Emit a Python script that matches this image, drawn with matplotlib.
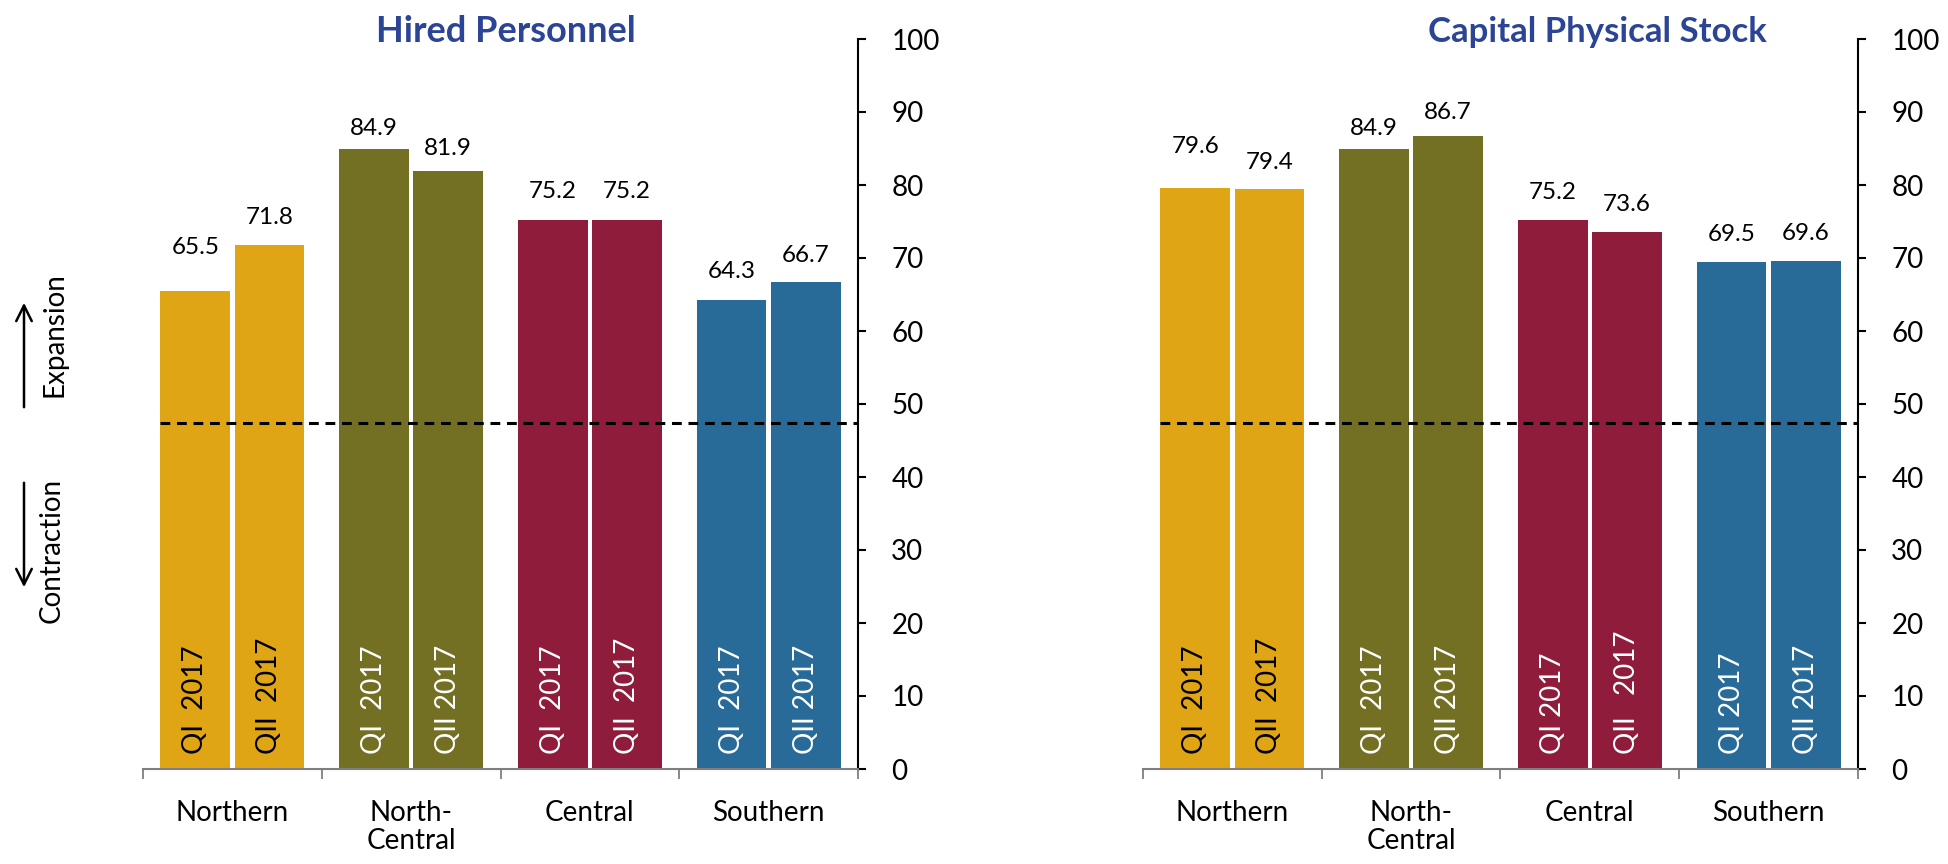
import numpy as np
import matplotlib
matplotlib.use("Agg")
import matplotlib.pyplot as plt

plt.rcParams['font.family'] = ['Lato', 'DejaVu Sans']

# Data
regions = ["Northern", "North-\nCentral", "Central", "Southern"]
colors = ['#DFA514', '#737024', '#8E1C3A', '#286B99']
text_colors = ['black', 'white', 'white', 'white']

hired_qi = [65.5, 84.9, 75.2, 64.3]
hired_qii = [71.8, 81.9, 75.2, 66.7]
capital_qi = [79.6, 84.9, 75.2, 69.5]
capital_qii = [79.4, 86.7, 73.6, 69.6]

# bar labels inside bars (spacing as in the original)
hired_qi_names = ["QI  2017", "QI  2017", "QI  2017", "QI  2017"]
hired_qii_names = ["QII  2017", "QII 2017", "QII  2017", "QII 2017"]
capital_qi_names = ["QI  2017", "QI  2017", "QI 2017", "QI 2017"]
capital_qii_names = ["QII  2017", "QII 2017", "QII   2017", "QII 2017"]

# height where the value labels sit (placed by hand in the original)
hired_qi_label_y = [71.4, 87.8, 79.1, 68.2]
hired_qii_label_y = [75.6, 85.0, 79.1, 70.4]
capital_qi_label_y = [85.3, 87.7, 79.0, 73.2]
capital_qii_label_y = [83.1, 89.9, 77.3, 73.3]

threshold = 47.4

W, H = 1949, 864
fig = plt.figure(figsize=(W / 100, H / 100), dpi=100)

bar_w = 0.39
off = 0.2075
x = np.arange(len(regions))


def draw_panel(ax, qi, qii, qi_names, qii_names, qi_ly, qii_ly):
    ax.bar(x - off, qi, width=bar_w, color=colors, edgecolor='none')
    ax.bar(x + off, qii, width=bar_w, color=colors, edgecolor='none')

    for i in range(len(regions)):
        ax.text(x[i] - off, qi_ly[i], f"{qi[i]:.1f}", ha='center', va='center', fontsize=17.5)
        ax.text(x[i] + off, qii_ly[i], f"{qii[i]:.1f}", ha='center', va='center', fontsize=17.5)
        ax.text(x[i] - off, 2.0, qi_names[i], rotation=90, ha='center', va='bottom',
                fontsize=20, color=text_colors[i])
        ax.text(x[i] + off, 2.0, qii_names[i], rotation=90, ha='center', va='bottom',
                fontsize=20, color=text_colors[i])

    # expansion / contraction threshold
    ax.hlines(threshold, x[0] - off - bar_w / 2, 3.5, colors='black',
              linestyles=(0, (3.2, 2.2)), linewidth=2.2, zorder=3)

    ax.set_xlim(-0.5, 3.5)
    ax.set_ylim(0, 100)
    ax.spines['left'].set_visible(False)
    ax.spines['top'].set_visible(False)
    ax.spines['right'].set_linewidth(1.5)
    ax.spines['bottom'].set_linewidth(1.5)
    ax.spines['bottom'].set_color('#7f7f7f')

    ax.yaxis.tick_right()
    ax.set_yticks(np.arange(0, 101, 10))
    ax.tick_params(axis='y', direction='out', length=6, width=1.5, pad=18, labelsize=20)

    ax.set_xticks(np.arange(-0.5, 4, 1))
    ax.set_xticklabels([])
    ax.tick_params(axis='x', which='major', direction='out', length=7.5, width=1.3, color='#7f7f7f')
    ax.set_xticks(x, minor=True)
    ax.set_xticklabels(regions, minor=True, fontsize=20, linespacing=1.1)
    ax.tick_params(axis='x', which='minor', length=0, pad=22)


ax1 = fig.add_axes([143 / W, 95 / H, 715 / W, 730 / H])
draw_panel(ax1, hired_qi, hired_qii, hired_qi_names, hired_qii_names,
           hired_qi_label_y, hired_qii_label_y)

ax2 = fig.add_axes([1143 / W, 95 / H, 715 / W, 730 / H])
draw_panel(ax2, capital_qi, capital_qii, capital_qi_names, capital_qii_names,
           capital_qi_label_y, capital_qii_label_y)

title_color = '#2B4496'
fig.text(506 / W, 1 - 42 / H, "Hired Personnel", ha='center', va='baseline',
         fontsize=26, fontweight='bold', color=title_color)
fig.text(1597 / W, 1 - 42 / H, "Capital Physical Stock", ha='center', va='baseline',
         fontsize=25, fontweight='bold', color=title_color)

# expansion / contraction hints on the left
fig.text(55 / W, 1 - 335 / H, "Expansion", rotation=90, ha='center', va='center', fontsize=20)
fig.text(52 / W, 1 - 550 / H, "Contraction", rotation=90, ha='center', va='center', fontsize=20)
fig.add_artist(matplotlib.patches.FancyArrowPatch(
    (24 / W, 1 - 410 / H), (24 / W, 1 - 300 / H), transform=fig.transFigure,
    arrowstyle='->', mutation_scale=28, linewidth=1.8, color='black'))
fig.add_artist(matplotlib.patches.FancyArrowPatch(
    (24 / W, 1 - 480 / H), (24 / W, 1 - 590 / H), transform=fig.transFigure,
    arrowstyle='->', mutation_scale=28, linewidth=1.8, color='black'))

fig.savefig("out.png", dpi=100)
